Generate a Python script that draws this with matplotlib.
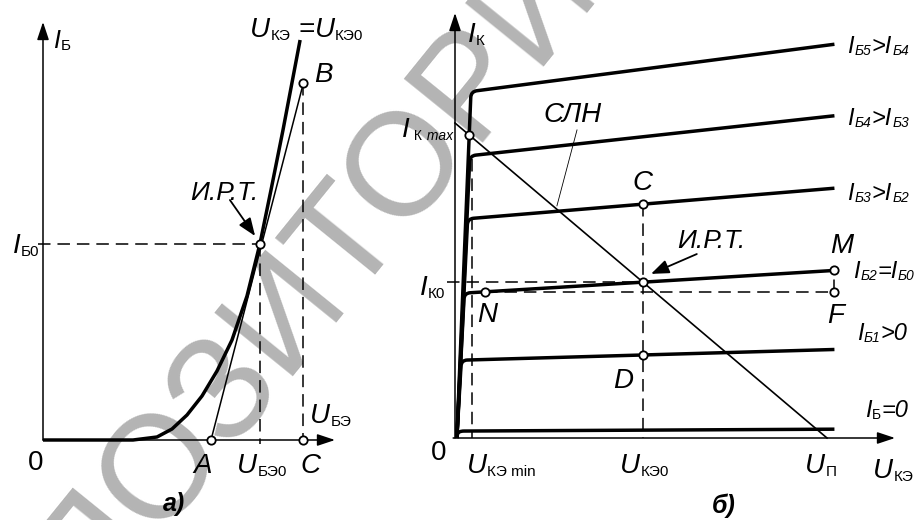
import re
import numpy as np
import matplotlib
matplotlib.use("Agg")
import matplotlib.pyplot as plt
from matplotlib.path import Path
from matplotlib.patches import PathPatch

plt.rcParams["font.family"] = ["Liberation Sans", "DejaVu Sans"]
plt.rcParams["lines.scale_dashes"] = False

# ---------- panel а): input characteristic I_Б(U_БЭ) ----------
u_be = [0.0, 0.30, 0.38, 0.43, 0.48, 0.53, 0.58, 0.63, 0.68, 0.723, 0.76, 0.80, 0.857]
i_b = [0.0, 0.0, 0.3, 1.1, 2.5, 4.4, 6.9, 10.0, 14.4, 19.6, 25.0, 31.0, 40.0]
u_a = 0.56        # point A (tangent foot)
u_be0 = 0.723     # quiescent base-emitter voltage
i_b0 = 19.6       # quiescent base current
u_c = 0.868       # point C
i_b_B = 35.7      # point B on the tangent

# ---------- panel б): output characteristics I_К(U_КЭ) ----------
curve_labels = ["I_{*Б5}>I_{*Б4}", "I_{*Б4}>I_{*Б3}", "I_{*Б3}>I_{*Б2}",
                "I_{*Б2}=I_{*Б0}", "I_{*Б1}>0", "I_{Б}=0"]
u_knee = [0.43, 0.40, 0.34, 0.25, 0.17, 0.08]
i_knee = [11.0, 8.96, 6.96, 4.60, 2.47, 0.22]
i_end = [12.5, 10.23, 7.93, 5.32, 2.81, 0.28]
u_start = 0.05
u_end = 10.2
u_p = 10.0        # supply voltage U_П
i_k_line = 10.0   # load line intercept on the current axis
u_ke0 = 5.05      # quiescent collector-emitter voltage
u_ke_min = 0.46
u_N = 0.81

FW, FH = 922, 520
fig = plt.figure(figsize=(FW / 100, FH / 100), dpi=100)

# both panels share the full canvas; each gets its own data frame
ax1 = fig.add_axes([0, 0, 1, 1])
ax1.set_xlim(-43 / 300, (FW - 43) / 300)
ax1.set_ylim(-(FH - 440) / 10, 440 / 10)
ax2 = fig.add_axes([0, 0, 1, 1])
ax2.set_xlim(-455 / 37.2, (FW - 455) / 37.2)
ax2.set_ylim(-(FH - 438) / 31.5, 438 / 31.5)
for ax in (ax1, ax2):
    ax.axis("off")
    ax.set_facecolor("none")

# watermark
ax1.text(0.342, 0.358, "РЕПОЗИТОРИЙ", transform=fig.transFigure, fontsize=105,
         color="#b4b4b4", rotation=51, rotation_mode="anchor",
         ha="center", va="baseline", zorder=0)

THICK = 2.5
THIN = 1.1
DASH = (9, 5)


def axis_arrow(ax, start, tip):
    ax.annotate("", xy=tip, xytext=start,
                arrowprops=dict(arrowstyle="-|>,head_length=0.9,head_width=0.3",
                                lw=THIN, color="k", shrinkA=0, shrinkB=0,
                                mutation_scale=12))


def pointer(ax, start, tip, lw=1.3):
    ax.annotate("", xy=tip, xytext=start,
                arrowprops=dict(arrowstyle="-|>,head_length=0.9,head_width=0.35",
                                lw=lw, color="k", shrinkA=0, shrinkB=0,
                                mutation_scale=12))


def dashed(ax, xs, ys):
    ax.plot(xs, ys, color="k", lw=THIN, dashes=DASH, zorder=2)


def dots(ax, xs, ys):
    ax.plot(xs, ys, "o", ms=6, mfc="white", mec="k", mew=1.3, zorder=5)


def rich(ax, x, y, spec, size=20, sub_size=12, style="italic", weight="normal"):
    """Text with subscripts written as _{...}; a leading * makes a subscript italic."""
    parts = re.split(r"_\{([^}]*)\}", spec)
    first = prev = None
    for k, part in enumerate(parts):
        if part == "":
            continue
        is_sub = k % 2 == 1
        fs = sub_size if is_sub else size
        st = style if not is_sub else ("italic" if part.startswith("*") else "normal")
        txt = part.lstrip("*") if is_sub else part
        if prev is None:
            t = ax.text(x, y, txt, fontsize=fs, fontstyle=st, fontweight=weight,
                        ha="left", va="baseline", zorder=6)
            first = t
        else:
            t = ax.annotate(txt, xy=(1, 0), xycoords=(prev, first),
                            xytext=(0.3, 0), textcoords="offset points",
                            fontsize=fs, fontstyle=st, fontweight=weight,
                            ha="left", va="bottom", zorder=6)
        prev = t
    return first


# ===================== panel а) =====================
axis_arrow(ax1, (0, 0), (0, (440 - 22) / 10))
axis_arrow(ax1, (0, 0), ((335 - 43) / 300, 0))

dashed(ax1, [-0.015, u_be0], [i_b0, i_b0])
dashed(ax1, [u_be0, u_be0], [i_b0, -0.4])
dashed(ax1, [u_c, u_c], [i_b_B, 0])

ax1.plot([u_a, u_c], [0, i_b_B], color="k", lw=THIN, zorder=3)
ax1.plot(u_be, i_b, color="k", lw=THICK, solid_joinstyle="round",
         solid_capstyle="butt", zorder=4)
dots(ax1, [u_a, u_be0, u_c, u_c], [0, i_b0, i_b_B, 0])

pointer(ax1, (0.623, 24.0), (0.707, 20.4))

rich(ax1, 0.033, 39.2, "I_{Б}", size=18, sub_size=11)
rich(ax1, 0.69, 40.3, "U_{КЭ} =U_{КЭ0}", size=20, sub_size=11)
rich(ax1, 0.905, 35.8, "B", size=20)
rich(ax1, 0.49, 24.0, "И.Р.Т.", size=19)
rich(ax1, -0.10, 18.7, "I_{Б0}", size=20, sub_size=11)
rich(ax1, 0.89, 1.7, "U_{БЭ}", size=20, sub_size=11)
rich(ax1, -0.05, -3.0, "0", size=20, style="normal")
rich(ax1, 0.50, -3.3, "A", size=20)
rich(ax1, 0.647, -3.3, "U_{БЭ0}", size=20, sub_size=11)
rich(ax1, 0.857, -3.3, "C", size=20)
rich(ax1, 0.40, -7.1, "а)", size=18, weight="bold")

# ===================== panel б) =====================
axis_arrow(ax2, (-0.05, 0), ((895 - 455) / 37.2, 0))
axis_arrow(ax2, (0, 0), (0, (438 - 13) / 31.5))

fig.canvas.draw()
T = ax2.transData


def knee_curve(ax, uk, ik, ie, r_px=6.0):
    p0 = np.array([u_start, 0.0])
    pk = np.array([uk, ik])
    pe = np.array([u_end, ie])
    d0, dk, de = T.transform(np.vstack([p0, pk, pe]))

    def toward(a, b, da, db):
        f = min(r_px / np.hypot(*(db - da)), 0.5)
        return a + (b - a) * f

    p1 = toward(pk, p0, dk, d0)
    p2 = toward(pk, pe, dk, de)
    path = Path([p0, p1, pk, p2, pe],
                [Path.MOVETO, Path.LINETO, Path.CURVE3, Path.CURVE3, Path.LINETO])
    ax.add_patch(PathPatch(path, fill=False, lw=THICK, edgecolor="k",
                           joinstyle="round", capstyle="butt", zorder=4))


def flat_value(idx, u):
    return np.interp(u, [u_knee[idx], u_end], [i_knee[idx], i_end[idx]])


for uk, ik, ie in zip(u_knee, i_knee, i_end):
    knee_curve(ax2, uk, ik, ie)

# load line
ax2.plot([0, u_p], [i_k_line, 0], color="k", lw=1.2, zorder=3)

# saturation point on the top curve's steep branch
g_top = i_knee[0] / (u_knee[0] - u_start)
u_kmax = (i_k_line + g_top * u_start) / (g_top + i_k_line / u_p)
i_kmax = i_k_line * (1 - u_kmax / u_p)

i_k0 = i_k_line * (1 - u_ke0 / u_p)
i_C = flat_value(2, u_ke0)
i_D = flat_value(4, u_ke0)
i_N = flat_value(3, u_N)
i_M = i_end[3]

dashed(ax2, [-0.22, u_ke0], [i_k0, i_k0])
dashed(ax2, [u_ke0, u_ke0], [i_C, 0])
dashed(ax2, [u_ke_min, u_ke_min], [i_knee[1] - 0.1, 0])
dashed(ax2, [u_N, u_end], [i_N, i_N])
dashed(ax2, [u_end, u_end], [i_N, i_M])

dots(ax2, [u_kmax, u_ke0, u_ke0, u_N, u_end, u_end, u_ke0],
     [i_kmax, i_C, i_k0, i_N, i_M, i_N, i_D])

# leader for the load line label and pointer to the operating point
ax2.plot([3.28, 2.74], [9.78, 7.37], color="k", lw=0.6, zorder=3)
pointer(ax2, (6.50, 5.84), (5.27, 5.21))

rich(ax2, 0.35, 12.57, "I_{К}", size=20, sub_size=11)
rich(ax2, -1.42, 9.56, "I_{ К}_{* max}", size=20, sub_size=10)
rich(ax2, 2.37, 10.03, "СЛН", size=20)
rich(ax2, 4.78, 7.87, "C", size=20)
rich(ax2, 5.97, 6.03, "И.Р.Т.", size=19)
rich(ax2, 10.08, 5.87, "M", size=20)
rich(ax2, 10.0, 3.65, "F", size=20)
rich(ax2, 0.59, 3.68, "N", size=20)
rich(ax2, 4.25, 1.59, "D", size=20)
rich(ax2, -0.94, 4.54, "I_{К0}", size=20, sub_size=11)
rich(ax2, -0.66, -0.70, "0", size=20, style="normal")
rich(ax2, 0.32, -1.11, "U_{КЭ min}", size=20, sub_size=11)
rich(ax2, 4.44, -1.11, "U_{КЭ0}", size=20, sub_size=11)
rich(ax2, 9.41, -1.11, "U_{П}", size=20, sub_size=11)
rich(ax2, 11.24, -1.27, "U_{КЭ}", size=20, sub_size=11)
rich(ax2, 6.91, -2.38, "б)", size=18, weight="bold")

label_x = [10.54, 10.54, 10.54, 10.70, 10.80, 11.02]
label_y = [12.22, 9.94, 7.56, 5.08, 3.11, 0.67]
for lab, lx, ly in zip(curve_labels, label_x, label_y):
    rich(ax2, lx, ly, lab, size=17, sub_size=10)

fig.savefig("out.png", dpi=100)
